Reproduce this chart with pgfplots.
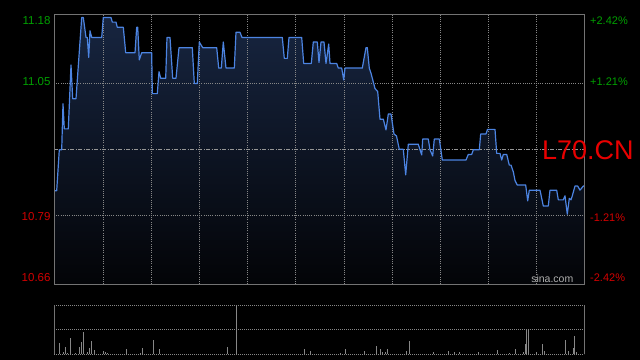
\documentclass[border=0pt]{standalone}
\usepackage{pgfplots}
\usepackage{pgfplotstable}
\pgfplotsset{compat=1.18}
\usepackage{fontspec}
\setmainfont{Liberation Sans}
\definecolor{bordc}{RGB}{115,115,115}
\definecolor{gridc}{RGB}{135,135,135}
\definecolor{midc}{RGB}{150,150,150}
\definecolor{pline}{RGB}{76,132,226}
\definecolor{filltop}{RGB}{23,37,64}
\definecolor{fillbot}{RGB}{3,4,7}
\definecolor{upgreen}{RGB}{0,160,0}
\definecolor{downred}{RGB}{210,0,0}
\definecolor{bigred}{RGB}{232,0,0}
\definecolor{volc}{RGB}{135,135,135}
\definecolor{sinac}{RGB}{175,175,175}

\pgfplotstableread{
x y
54.5 10.839
56.7 10.839
59.3 10.919
61.7 10.919
63.0 11.009
64.3 10.960
68.3 10.960
71.0 11.085
72.7 11.019
76.0 11.019
81.7 11.178
83.3 11.178
86.0 11.139
87.3 11.139
88.7 11.100
90.0 11.152
91.7 11.139
101.7 11.139
103.3 11.178
111.0 11.178
112.3 11.169
116.0 11.169
117.3 11.159
123.3 11.159
125.7 11.109
135.0 11.109
136.7 11.159
137.7 11.159
139.3 11.095
141.7 11.109
151.7 11.109
152.3 11.029
157.3 11.029
159.0 11.072
160.7 11.059
165.7 11.059
167.0 11.139
170.0 11.139
172.7 11.059
176.0 11.059
179.0 11.119
192.3 11.119
194.3 11.049
197.3 11.049
199.3 11.130
202.7 11.119
216.7 11.119
218.7 11.079
221.3 11.079
223.3 11.130
226.0 11.079
234.3 11.079
236.0 11.149
240.0 11.149
242.0 11.139
282.3 11.139
284.3 11.098
287.3 11.098
289.0 11.139
301.7 11.139
303.7 11.088
311.3 11.088
313.3 11.130
317.3 11.130
319.0 11.090
321.0 11.130
324.0 11.130
326.0 11.088
328.7 11.126
330.0 11.088
336.7 11.088
338.3 11.079
341.7 11.079
343.7 11.056
345.0 11.079
362.3 11.079
366.0 11.119
367.3 11.119
369.3 11.079
371.0 11.069
375.0 11.039
377.7 11.033
380.0 10.979
383.3 10.979
386.0 10.958
388.3 10.989
391.0 10.989
394.0 10.950
396.5 10.946
399.3 10.920
403.3 10.920
405.7 10.870
408.3 10.930
418.3 10.930
420.0 10.919
421.7 10.909
422.7 10.940
428.3 10.940
430.0 10.919
432.7 10.907
434.3 10.940
439.3 10.940
442.3 10.899
466.0 10.899
468.3 10.910
471.7 10.910
473.3 10.919
479.3 10.919
480.7 10.950
486.0 10.950
487.5 10.959
495.0 10.959
496.7 10.912
500.0 10.912
501.7 10.899
503.3 10.910
506.7 10.910
509.3 10.889
511.0 10.889
513.3 10.876
515.0 10.859
517.3 10.850
525.7 10.850
527.7 10.819
529.3 10.840
540.0 10.840
543.3 10.809
548.3 10.809
550.0 10.840
556.7 10.840
558.3 10.821
563.3 10.821
565.0 10.829
567.3 10.793
569.3 10.824
571.0 10.821
572.3 10.829
575.0 10.848
577.7 10.848
580.0 10.840
583.3 10.848
584.0 10.848
}\pricedata

\pgfplotstableread{
x v
59.3 0.47
63.3 0.11
65.3 0.31
67.3 0.07
70.3 0.66
75.3 0.04
79.3 0.31
81.3 0.51
83.3 0.91
87.3 0.11
89.3 0.27
91.3 0.54
94.3 0.18
103.3 0.14
105.3 0.11
107.3 0.07
126.3 0.22
140.0 0.07
142.3 0.27
153.3 0.58
159.3 0.22
227.3 0.30
236.3 2.00
304.3 0.22
310.3 0.14
340.0 0.05
345.3 0.22
364.3 0.14
376.3 0.34
380.3 0.22
382.3 0.11
385.3 0.11
387.3 0.22
406.3 0.14
409.3 0.54
433.3 0.11
448.3 0.14
454.3 0.11
459.3 0.11
478.3 0.11
497.3 0.18
509.3 0.05
515.3 0.22
523.3 0.11
525.3 0.42
526.7 1.00
528.3 1.00
536.3 0.11
542.3 0.42
544.3 0.14
565.3 0.58
568.3 0.14
573.3 0.27
574.3 0.74
576.3 0.11
}\voldata

\begin{document}
\begin{tikzpicture}
\fill[black] (0,0) rectangle (640bp,360bp);
% main price panel
\begin{axis}[
  at={(54bp,75.7bp)}, anchor=south west, scale only axis,
  width=530bp, height=270bp,
  xmin=54, xmax=584, ymin=10.6557, ymax=11.1843,
  hide axis, clip=false,
]
\addplot[draw=none, top color=filltop, bottom color=fillbot] table[x=x,y=y] {\pricedata} \closedcycle;
\pgfplotsinvokeforeach{103.3,151.7,199.3,247.3,295.7,344,392.3,440.3,488.3,536.3}{
  \addplot[draw=gridc, line width=0.75bp, dash pattern=on 1bp off 1.2bp] coordinates {(#1,10.6557) (#1,11.1843)};
}
\addplot[draw=gridc, line width=0.75bp, dash pattern=on 1bp off 1.2bp] coordinates {(54,11.05) (584,11.05)};
\addplot[draw=gridc, line width=0.75bp, dash pattern=on 1bp off 1.2bp] coordinates {(54,10.79) (584,10.79)};
\addplot[draw=midc, line width=0.8bp, dash pattern=on 4bp off 1.5bp on 1bp off 1.5bp] coordinates {(54,10.92) (584,10.92)};
\addplot[draw=pline, line width=1.2bp, line join=round] table[x=x,y=y] {\pricedata};
\draw[bordc, line width=0.9bp] (rel axis cs:0,0) rectangle (rel axis cs:1,1);
\end{axis}
% volume panel
\begin{axis}[
  at={(54bp,5.7bp)}, anchor=south west, scale only axis,
  width=530bp, height=49.3bp,
  xmin=54, xmax=584, ymin=0, ymax=2,
  hide axis, clip=false,
]
\addplot[draw=volc, line width=1bp, dash pattern=on 1bp off 1bp] coordinates {(54,2) (584,2)};
\addplot[draw=volc, line width=1bp, dash pattern=on 1bp off 1bp] coordinates {(54,1) (584,1)};
\addplot[draw=volc, line width=1bp, dash pattern=on 1bp off 1bp] coordinates {(54,0) (584,0)};
\addplot[ycomb, draw=volc, line width=0.8bp, no marks] table[x=x,y=v] {\voldata};
\draw[bordc, line width=0.9bp] (axis cs:54,0) -- (axis cs:54,2);
\draw[bordc, line width=0.9bp] (axis cs:584,0) -- (axis cs:584,2);
\end{axis}
% labels
\begin{scope}[every node/.style={inner sep=0pt}]
\node[anchor=base east, text=upgreen, font=\fontsize{11.5bp}{13bp}\selectfont] at (50.7bp,335.7bp) {11.18};
\node[anchor=base east, text=upgreen, font=\fontsize{11.5bp}{13bp}\selectfont] at (50.7bp,274.3bp) {11.05};
\node[anchor=base east, text=downred, font=\fontsize{11.5bp}{13bp}\selectfont] at (50.7bp,139.0bp) {10.79};
\node[anchor=base east, text=downred, font=\fontsize{11.5bp}{13bp}\selectfont] at (50.7bp,78.0bp) {10.66};
\node[anchor=base west, text=upgreen, font=\fontsize{11bp}{13bp}\selectfont] at (590bp,335.7bp) {+2.42\%};
\node[anchor=base west, text=upgreen, font=\fontsize{11bp}{13bp}\selectfont] at (590bp,274.7bp) {+1.21\%};
\node[anchor=base west, text=downred, font=\fontsize{11bp}{13bp}\selectfont] at (590bp,138.7bp) {-1.21\%};
\node[anchor=base west, text=downred, font=\fontsize{11bp}{13bp}\selectfont] at (590bp,78.3bp) {-2.42\%};
\node[anchor=base east, text=sinac, font=\fontsize{10.5bp}{12bp}\selectfont] at (573.5bp,77.5bp) {sina.com};
\node[anchor=base west, text=bigred, font=\fontsize{27bp}{30bp}\selectfont] at (542bp,200.7bp) {L70.CN};
\end{scope}
\pgfresetboundingbox
\useasboundingbox (0,0) rectangle (640bp,360bp);
\end{tikzpicture}
\end{document}
